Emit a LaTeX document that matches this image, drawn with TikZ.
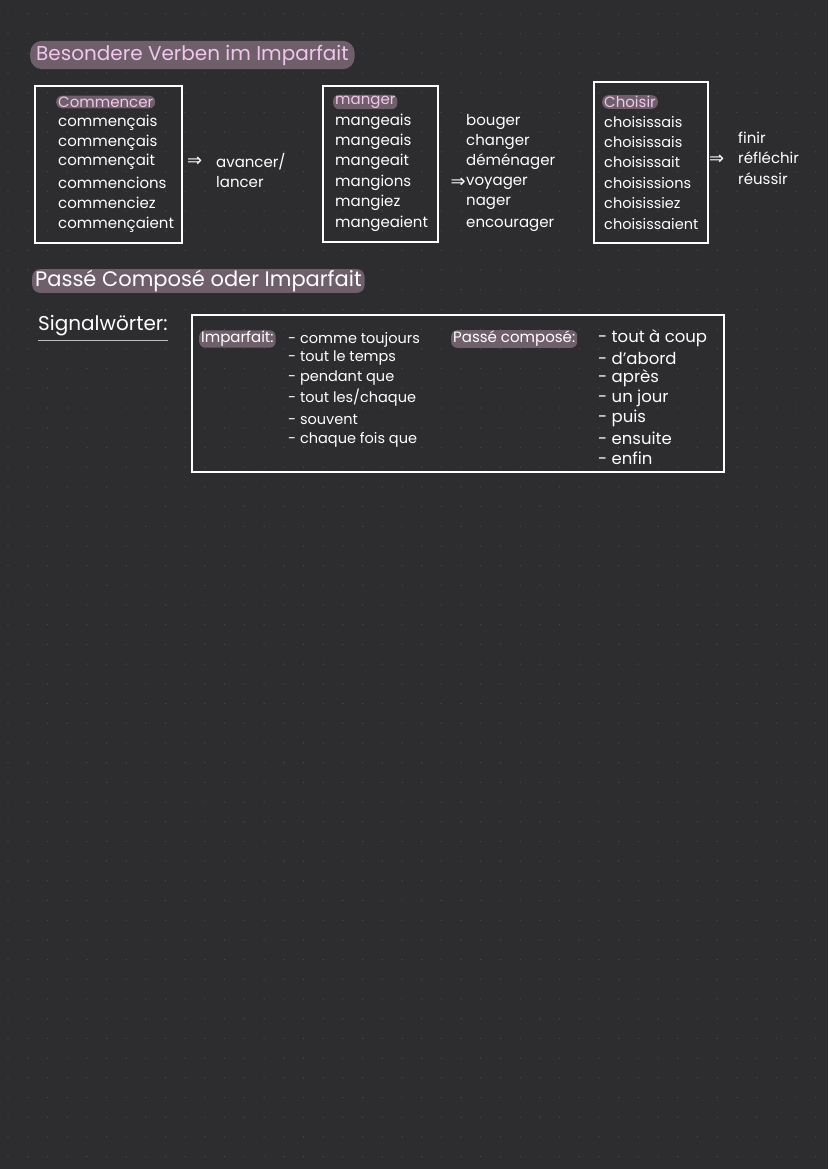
\documentclass[tikz,border=0pt]{standalone}
\usepackage{fontspec}
\setmainfont{Poppins}
\newfontfamily\symf{DejaVu Sans}
\begin{document}
\begin{tikzpicture}[x=1pt,y=-1pt,
  txt/.style={text=white,anchor=west,inner sep=0pt,font=\fontsize{15}{15}\selectfont},
  sm/.style={text=white,anchor=west,inner sep=0pt,font=\fontsize{14.5}{14.5}\selectfont},
  hl/.style={fill=hlc,text=pinkc,rounded corners=6pt,inner sep=2pt},
  boxw/.style={draw=white,line width=2.2pt},
  arr/.style={text=white,inner sep=0pt,font=\symf\fontsize{18}{18}\selectfont}]
\definecolor{bg}{HTML}{2D2D2F}
\definecolor{hlc}{HTML}{6E5F6B}
\definecolor{pinkc}{HTML}{F2C6EC}
\definecolor{dotc}{HTML}{4A4A4C}
\fill[bg] (0,0) rectangle (828,1169);
\useasboundingbox (0,0) rectangle (828,1169);
\foreach \i in {0,...,41}{\foreach \j in {0,...,59}{\fill[dotc] (8+\i*19.7,14+\j*19.7) circle (0.7);}}
% title 1
\node[hl,rounded corners=12pt,inner xsep=6pt,inner ysep=4pt,anchor=west,font=\fontsize{20}{20}\selectfont] (t1) at (30,55) {Besondere Verben im Imparfait};
% box1
\draw[boxw] (35,86) rectangle (182,243);
\node[hl,anchor=west,font=\fontsize{15}{15}\selectfont,inner ysep=1pt] (c0) at (56,102) {Commencer};
\foreach \n/\w/\y in {c1/commençais/123,c2/commençais/143,c3/commençait/162,c4/commencions/183,c5/commenciez/203,c6/commençaient/225}
  \node[txt] (\n) at (58,\y) {\w};
\node[arr,anchor=west] (a1) at (187,162) {⇒};
\node[txt] (av) at (216,162) {avancer/};
\node[txt] (la) at (216,182) {lancer};
% box2
\draw[boxw] (323,86) rectangle (438,242);
\node[hl,anchor=west,font=\fontsize{15}{15}\selectfont,inner ysep=1pt] (m0) at (333,102) {manger};
\foreach \n/\w/\y in {m1/mangeais/122,m2/mangeais/142,m3/mangeait/162,m4/mangions/183,m5/mangiez/203,m6/mangeaient/224}
  \node[txt] (\n) at (335,\y) {\w};
\foreach \n/\w/\y in {b1/bouger/122,b2/changer/142,b3/déménager/162,b4/voyager/183,b5/nager/203,b6/encourager/225}
  \node[txt] (\n) at (466,\y) {\w};
\node[arr,anchor=east] (a2) at (466,183) {⇒};
% box3
\draw[boxw] (594,82) rectangle (708,243);
\node[hl,anchor=west,font=\fontsize{15}{15}\selectfont,inner ysep=1pt] (h0) at (602,102) {Choisir};
\foreach \n/\w/\y in {h1/choisissais/122,h2/choisissais/142,h3/choisissait/162,h4/choisissions/183,h5/choisissiez/203,h6/choisissaient/224}
  \node[txt,font=\fontsize{14.5}{14.5}\selectfont] (\n) at (604,\y) {\w};
\node[arr,anchor=west] (a3) at (709,160) {⇒};
\node[txt] (f1) at (738,138) {finir};
\node[txt] (f2) at (738,158) {réfléchir};
\node[txt] (f3) at (738,179) {réussir};
% title 2
\node[hl,rounded corners=8pt,inner xsep=3pt,inner ysep=1pt,anchor=west,text=white,font=\fontsize{21}{21}\selectfont] (t2) at (32,281) {Passé Composé oder Imparfait};
\node[txt,font=\fontsize{20}{20}\selectfont] (sw) at (38,326) {Signalwörter:};
\draw[white!70!bg,line width=0.8pt] (38,340) -- (sw.south east |- 0,340);
% box4
\draw[boxw] (192,315) rectangle (724,472);
\node[hl,anchor=west,text=white,font=\fontsize{15}{15}\selectfont,inner ysep=1pt] (ip) at (199,339) {Imparfait:};
\foreach \n/\w/\y in {i1/{- comme toujours}/340,i2/{- tout le temps}/358,i3/{- pendant que}/378,i4/{- tout les/chaque}/398,i5/{- souvent}/420,i6/{- chaque fois que}/440}
  \node[sm] (\n) at (288,\y) {\w};
\node[hl,anchor=west,text=white,font=\fontsize{15}{15}\selectfont,inner ysep=1pt] (pc) at (451,339) {Passé composé:};
\foreach \n/\w/\y in {p1/{- tout à coup}/338,p2/{- d'abord}/358,p3/{- après}/378,p4/{- un jour}/398,p5/{- puis}/418,p6/{- ensuite}/438,p7/{- enfin}/458}
  \node[sm,font=\fontsize{16.5}{16.5}\selectfont] (\n) at (598,\y) {\w};
\end{tikzpicture}
\end{document}
